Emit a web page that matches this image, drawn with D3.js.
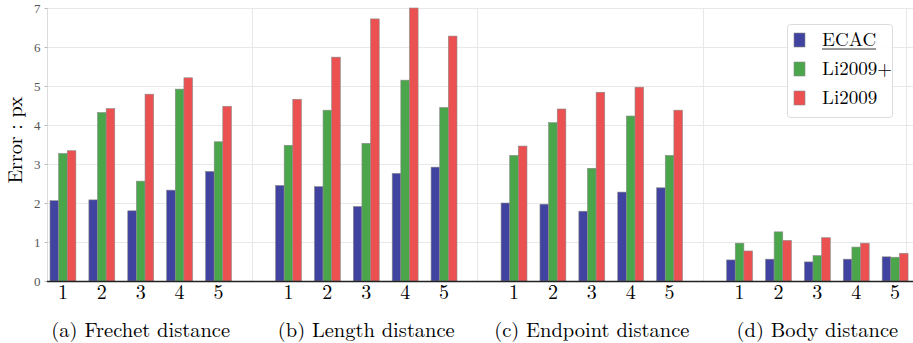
<!DOCTYPE html>
<html>
<head>
<meta charset="utf-8">
<script src="https://cdn.jsdelivr.net/npm/d3@7"></script>
<style>
  body { margin: 0; background: #fff; }
  svg { display: block; }
  text { font-family: 'Latin Modern Roman', 'CMU Serif', 'Liberation Serif', serif; }
</style>
</head>
<body>
<div class="vis"></div>
<script>
'use strict';

// groups of the figure (one panel per distance measure)
var groups = ['(a) Frechet distance', '(b) Length distance', '(c) Endpoint distance', '(d) Body distance'];
var items = ['1', '2', '3', '4', '5'];
var methods = ['ECAC', 'Li2009+', 'Li2009'];

// error values per group, per item
var ecac = [
  [2.06, 2.08, 1.80, 2.33, 2.81],
  [2.45, 2.42, 1.91, 2.76, 2.92],
  [2.00, 1.97, 1.79, 2.28, 2.39],
  [0.54, 0.56, 0.49, 0.56, 0.62]
];
var li2009plus = [
  [3.27, 4.32, 2.56, 4.92, 3.57],
  [3.48, 4.38, 3.53, 5.15, 4.45],
  [3.22, 4.06, 2.89, 4.23, 3.22],
  [0.97, 1.26, 0.65, 0.87, 0.61]
];
var li2009 = [
  [3.34, 4.42, 4.79, 5.21, 4.48],
  [4.66, 5.74, 6.72, 7.00, 6.28],
  [3.46, 4.41, 4.84, 4.97, 4.38],
  [0.77, 1.04, 1.11, 0.97, 0.71]
];
var yTicks = [0, 1, 2, 3, 4, 5, 6, 7];

(function () {
  var width = 913;
  var height = 343;
  var colors = ['#4043a0', '#4ba54b', '#ec5151'];
  var series = [ecac, li2009plus, li2009];

  // each group takes 5 slots plus a gap
  var groupStep = 5.8;
  var barW = 0.222;

  var x = d3.scaleLinear()
    .domain([-0.41, 21.86])
    .range([47, 913]);

  var y = d3.scaleLinear()
    .domain([0, 7])
    .range([281, 8]);

  function pos(g, i) { return g * groupStep + i; }

  var svg = d3.select('.vis')
    .append('svg')
    .attr('width', width)
    .attr('height', height);

  // horizontal grid
  svg.append('g')
    .selectAll('line')
    .data(yTicks.slice(1))
    .enter()
    .append('line')
    .attr('x1', x.range()[0]).attr('x2', x.range()[1])
    .attr('y1', function(d) { return y(d) + 0.5; })
    .attr('y2', function(d) { return y(d) + 0.5; })
    .attr('stroke', '#e8e8e8')
    .attr('stroke-width', 1);

  // vertical grid between groups and right spine
  var vGrid = groups.map(function(g, i) { return i * groupStep + 4.85; });
  vGrid[3] = 21.68;
  svg.append('g')
    .selectAll('line')
    .data(vGrid)
    .enter()
    .append('line')
    .attr('x1', function(d) { return Math.round(x(d)) + 0.5; })
    .attr('x2', function(d) { return Math.round(x(d)) + 0.5; })
    .attr('y1', y(7)).attr('y2', y(0))
    .attr('stroke', '#e8e8e8');

  // left spine + y axis
  var yAxis = svg.append('g')
    .attr('transform', 'translate(47.5,0)')
    .call(d3.axisLeft(y).tickValues(yTicks).tickSize(3).tickPadding(4).tickFormat(d3.format('d')));
  yAxis.select('.domain').attr('stroke', '#dcdcdc').attr('d', 'M0,' + y(7) + 'V' + y(0));
  yAxis.selectAll('.tick line').attr('stroke', '#bbb');
  yAxis.selectAll('.tick text')
    .attr('fill', '#555')
    .style('font-size', '13px')
    .style('font-family', "'Liberation Serif', serif");

  // bars
  groups.forEach(function(gName, g) {
    series.forEach(function(s, k) {
      svg.append('g')
        .selectAll('rect')
        .data(s[g])
        .enter()
        .append('rect')
        .attr('x', function(d, i) { return x(pos(g, i) + (k - 1.5) * barW); })
        .attr('width', x(barW) - x(0))
        .attr('y', function(d) { return y(d); })
        .attr('height', function(d) { return y(0) - y(d); })
        .attr('fill', colors[k])
        .attr('stroke', '#8a8a8a')
        .attr('stroke-width', 0.6);
    });
  });

  // x axis baseline
  svg.append('line')
    .attr('x1', 47).attr('x2', 913)
    .attr('y1', y(0) + 0.5).attr('y2', y(0) + 0.5)
    .attr('stroke', '#222')
    .attr('stroke-width', 1.6);

  // item tick labels
  groups.forEach(function(gName, g) {
    svg.append('g')
      .selectAll('text')
      .data(items)
      .enter()
      .append('text')
      .attr('x', function(d, i) { return x(pos(g, i)); })
      .attr('y', 298.5)
      .attr('text-anchor', 'middle')
      .style('font-size', '20px')
      .text(function(d) { return d; });
  });

  // group captions
  svg.append('g')
    .selectAll('text')
    .data(groups)
    .enter()
    .append('text')
    .attr('x', function(d, g) { return x(pos(g, 2)); })
    .attr('y', 336.5)
    .attr('text-anchor', 'middle')
    .style('font-size', '20.5px')
    .text(function(d) { return d; });

  // y label
  svg.append('text')
    .attr('transform', 'translate(22,140) rotate(-90)')
    .attr('text-anchor', 'middle')
    .style('font-size', '20px')
    .text('Error : px');

  // legend
  var legend = svg.append('g').attr('transform', 'translate(787,24)');
  legend.append('rect')
    .attr('x', 0.5).attr('y', 0.5)
    .attr('width', 105).attr('height', 93)
    .attr('rx', 3)
    .attr('fill', '#fff')
    .attr('fill-opacity', 0.9)
    .attr('stroke', '#dcdcdc');

  var rows = legend.selectAll('.row')
    .data(methods)
    .enter()
    .append('g')
    .attr('class', 'row')
    .attr('transform', function(d, i) { return 'translate(0,' + (16 + i * 29) + ')'; });

  rows.append('rect')
    .attr('x', 7).attr('y', -7)
    .attr('width', 11).attr('height', 14)
    .attr('fill', function(d, i) { return colors[i]; })
    .attr('stroke', '#8a8a8a')
    .attr('stroke-width', 0.6);

  rows.append('text')
    .attr('x', 35)
    .attr('y', 6)
    .style('font-size', '19px')
    .text(function(d) { return d; });

  // ECAC is underlined
  var ecacText = rows.filter(function(d, i) { return i === 0; }).select('text');
  var w = ecacText.node().getComputedTextLength();
  legend.append('line')
    .attr('x1', 35).attr('x2', 35 + w)
    .attr('y1', 16 + 9).attr('y2', 16 + 9)
    .attr('stroke', '#333')
    .attr('stroke-width', 1);
})();
</script>
</body>
</html>
